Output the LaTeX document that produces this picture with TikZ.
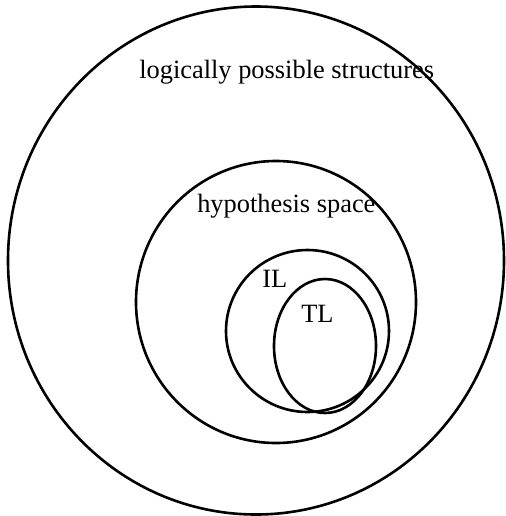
\documentclass[tikz,border=0pt]{standalone}
\usepackage{fontspec}
\setmainfont{Liberation Serif}
\usepackage{tikz}

\begin{document}
\begin{tikzpicture}[x=0.5pt,y=-0.5pt,line width=1.3pt,
  setlabel/.style={anchor=base west,inner sep=0pt,font=\fontsize{13.2}{15}\selectfont}]
  \useasboundingbox (0,0) rectangle (506,516);
  \coordinate (L) at (256,260.5);
  \coordinate (H) at (276,302);
  \coordinate (I) at (307.5,331);
  \coordinate (T) at (325,346);
  \draw (L) ellipse [x radius=248,y radius=254];
  \draw (H) ellipse [x radius=140,y radius=141];
  \draw (I) ellipse [x radius=81.5,y radius=81];
  \draw (T) ellipse [x radius=51,y radius=67];
  \node[setlabel] (lps) at (138,78) {logically possible structures};
  \node[setlabel] (hs) at (196,212) {hypothesis space};
  \node[setlabel] (il) at (261,287) {IL};
  \node[setlabel] (tl) at (300,322) {TL};
\end{tikzpicture}
\end{document}
